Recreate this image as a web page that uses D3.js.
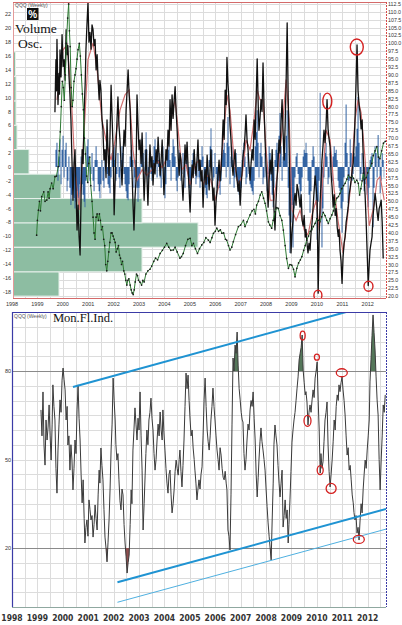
<!DOCTYPE html>
<html><head><meta charset="utf-8">
<script src="https://cdn.jsdelivr.net/npm/d3@7"></script>
<style>html,body{margin:0;padding:0;background:#fff;} svg{display:block}</style>
</head><body><svg id="c" width="402" height="625"></svg>
<script>
// ---------------- DATA ----------------
const years = d3.range(1998, 2013);
const oscTicks = d3.range(-18, 23, 2);
const priceTicks = d3.range(20, 112.6, 2.5);
const mfiTicks = [20, 50, 80];

// QQQ weekly close (right axis) [decimal year, price]
const qqqPrice = [[1998.97,39.3],[1999.00,44],[1999.04,47.2],[1999.08,50],[1999.12,47],[1999.17,51.5],[1999.25,53],[1999.30,50],[1999.37,50.4],[1999.42,53],[1999.46,51],[1999.50,54],[1999.56,55.8],[1999.62,54],[1999.69,57.8],[1999.75,58],[1999.82,61],[1999.86,66],[1999.90,72],[1999.94,80],[1999.98,88],[2000.02,86],[2000.06,82],[2000.10,90],[2000.14,100],[2000.19,108],[2000.23,112.5],[2000.26,104],[2000.29,99],[2000.33,86],[2000.37,80],[2000.40,82],[2000.44,88],[2000.48,90],[2000.52,92],[2000.56,95],[2000.60,98],[2000.65,100],[2000.69,96],[2000.73,90],[2000.77,84],[2000.81,79],[2000.85,70],[2000.89,65],[2000.94,58],[2000.98,56],[2001.02,62],[2001.06,64],[2001.10,55],[2001.15,50],[2001.19,45],[2001.23,40],[2001.27,38],[2001.31,45],[2001.35,46],[2001.40,44],[2001.44,46],[2001.48,44],[2001.52,41],[2001.56,42],[2001.61,38],[2001.65,36],[2001.69,30],[2001.73,28],[2001.77,31],[2001.81,34],[2001.85,37],[2001.90,40],[2001.94,40],[2001.98,39],[2002.02,38],[2002.06,37],[2002.10,34],[2002.15,35],[2002.19,36],[2002.23,33],[2002.27,32],[2002.31,30],[2002.35,31],[2002.40,28],[2002.44,27],[2002.48,25],[2002.52,23.5],[2002.56,25],[2002.60,25.5],[2002.65,23.5],[2002.69,22],[2002.73,21],[2002.77,20.5],[2002.81,22],[2002.85,24.5],[2002.90,27],[2002.94,26.5],[2002.98,25],[2003.04,24.4],[2003.10,23.5],[2003.15,25],[2003.20,24.5],[2003.27,27],[2003.35,28],[2003.43,28.5],[2003.50,29.5],[2003.58,31],[2003.65,32],[2003.73,31.5],[2003.83,33.5],[2003.92,34.5],[2004.00,35.5],[2004.09,36.7],[2004.17,35.5],[2004.25,34.5],[2004.35,34.6],[2004.42,35.5],[2004.50,34],[2004.61,32],[2004.67,32.5],[2004.74,33.5],[2004.83,36],[2004.92,38],[2005.01,38.3],[2005.08,36],[2005.14,36.7],[2005.22,35],[2005.30,33.5],[2005.38,35],[2005.47,36.2],[2005.55,37],[2005.63,38.5],[2005.73,37.7],[2005.80,37],[2005.87,38.5],[2005.93,39.9],[2006.00,40.5],[2006.06,41.5],[2006.13,40.5],[2006.20,41],[2006.26,39.9],[2006.33,40],[2006.40,38],[2006.45,37.7],[2006.52,36],[2006.58,34.6],[2006.65,35.5],[2006.71,37.2],[2006.80,39.5],[2006.91,42],[2007.00,42.5],[2007.11,44],[2007.17,42],[2007.25,43.5],[2007.37,45.7],[2007.45,47],[2007.52,47.5],[2007.58,46],[2007.63,48.8],[2007.70,50],[2007.77,52],[2007.83,53],[2007.90,51],[2007.96,49.4],[2008.02,47],[2008.09,43.5],[2008.15,42.5],[2008.22,41.5],[2008.28,44],[2008.35,46.7],[2008.42,48],[2008.48,47.8],[2008.55,45.5],[2008.62,44],[2008.68,40.9],[2008.75,36],[2008.81,31.9],[2008.88,28.8],[2008.94,30],[2009.01,29.8],[2009.08,28.5],[2009.14,26.1],[2009.21,28.8],[2009.28,30.5],[2009.35,31.5],[2009.41,32.5],[2009.48,34.5],[2009.54,36],[2009.60,37.7],[2009.67,39],[2009.74,40.5],[2009.80,41],[2009.86,42],[2009.93,43],[2010.00,44.5],[2010.06,44],[2010.12,43.5],[2010.19,45.1],[2010.25,46.5],[2010.32,45.5],[2010.39,44],[2010.45,43],[2010.52,44.5],[2010.59,45.7],[2010.65,47],[2010.72,49],[2010.78,51],[2010.85,51.5],[2010.91,52.5],[2010.98,54],[2011.05,55],[2011.11,55.7],[2011.18,57],[2011.24,58.3],[2011.31,57.5],[2011.38,58],[2011.44,57.3],[2011.50,56],[2011.57,56.7],[2011.63,55.7],[2011.68,52],[2011.73,54],[2011.78,56.5],[2011.83,58.9],[2011.88,57],[2011.94,57.5],[2012.00,59],[2012.08,60.5],[2012.16,62],[2012.22,64.5],[2012.29,66],[2012.36,67.3],[2012.42,64],[2012.48,63.5],[2012.55,66],[2012.62,68.4],[2012.69,69]];

// Oscillator (left axis) black line
const oscLine = [[1999.69,7.9],[1999.71,12.0],[1999.73,15.5],[1999.75,11.0],[1999.77,18.4],[1999.79,14.0],[1999.81,9.0],[1999.85,13.5],[1999.87,10.5],[1999.89,16.9],[1999.93,13.0],[1999.97,19.1],[2000.01,14.5],[2000.05,15.5],[2000.09,12.5],[2000.13,19.8],[2000.17,16.2],[2000.20,17.5],[2000.24,13.3],[2000.28,10.5],[2000.32,6.8],[2000.36,1.0],[2000.40,-4.8],[2000.44,0.5],[2000.48,2.5],[2000.52,-3.5],[2000.56,-9.1],[2000.60,-5.5],[2000.64,-10.0],[2000.68,-12.7],[2000.72,-4.0],[2000.76,2.5],[2000.80,0.5],[2000.84,8.2],[2000.88,12.0],[2000.91,16.9],[2000.95,20.5],[2000.99,23.7],[2001.03,18.0],[2001.07,19.4],[2001.11,17.0],[2001.15,20.5],[2001.19,19.8],[2001.23,17.5],[2001.27,18.4],[2001.31,14.0],[2001.35,16.2],[2001.39,12.5],[2001.43,9.7],[2001.46,12.5],[2001.50,11.1],[2001.54,7.0],[2001.58,5.3],[2001.62,1.0],[2001.66,2.5],[2001.70,-1.5],[2001.74,6.8],[2001.78,2.0],[2001.82,-1.2],[2001.86,5.0],[2001.90,11.8],[2001.94,7.0],[2001.98,2.5],[2002.02,-6.9],[2002.06,-2.0],[2002.09,2.5],[2002.13,6.5],[2002.17,10.1],[2002.21,6.0],[2002.25,3.9],[2002.29,0.5],[2002.33,-2.6],[2002.37,1.5],[2002.41,5.3],[2002.45,3.0],[2002.49,8.2],[2002.53,11.0],[2002.57,14.0],[2002.61,10.5],[2002.65,8.2],[2002.69,3.0],[2002.72,-0.4],[2002.76,-5.0],[2002.80,-9.1],[2002.84,-4.5],[2002.88,-1.9],[2002.92,10.4],[2002.96,6.0],[2003.00,2.5],[2003.04,3.9],[2003.08,0.5],[2003.12,4.9],[2003.16,0.0],[2003.20,-4.8],[2003.24,-1.0],[2003.28,2.5],[2003.31,-1.5],[2003.35,-5.5],[2003.39,-1.0],[2003.43,3.2],[2003.47,0.0],[2003.51,1.5],[2003.55,-2.6],[2003.59,0.5],[2003.63,-1.0],[2003.67,2.5],[2003.71,0.5],[2003.75,4.3],[2003.79,1.5],[2003.83,-1.2],[2003.87,1.0],[2003.91,3.9],[2003.94,0.5],[2003.98,-4.0],[2004.02,-1.0],[2004.06,2.5],[2004.10,1.0],[2004.14,5.3],[2004.18,3.0],[2004.22,9.7],[2004.26,5.3],[2004.30,10.4],[2004.34,7.0],[2004.38,9.5],[2004.42,11.6],[2004.46,8.0],[2004.50,5.3],[2004.54,1.5],[2004.58,-1.2],[2004.61,2.0],[2004.65,1.0],[2004.69,-2.0],[2004.73,-4.8],[2004.77,-1.0],[2004.81,3.2],[2004.85,0.5],[2004.89,3.6],[2004.93,0.0],[2004.97,-3.3],[2005.01,-6.5],[2005.05,-2.5],[2005.09,0.3],[2005.13,-1.5],[2005.17,2.5],[2005.20,0.5],[2005.24,-1.2],[2005.28,1.0],[2005.32,3.9],[2005.36,-0.5],[2005.40,1.0],[2005.44,-2.0],[2005.48,-0.5],[2005.52,-5.8],[2005.56,-2.0],[2005.60,-0.4],[2005.64,-2.5],[2005.68,1.7],[2005.72,-1.0],[2005.76,-3.3],[2005.80,0.0],[2005.83,2.5],[2005.87,-1.5],[2005.91,-4.8],[2005.95,-3.0],[2005.99,-8.4],[2006.03,-5.0],[2006.07,-3.3],[2006.11,-1.0],[2006.15,1.0],[2006.19,-2.0],[2006.23,-0.4],[2006.27,3.0],[2006.31,6.8],[2006.35,4.0],[2006.39,11.1],[2006.43,9.0],[2006.46,15.8],[2006.50,12.0],[2006.54,9.7],[2006.58,6.0],[2006.62,3.9],[2006.66,0.5],[2006.70,-1.2],[2006.74,1.0],[2006.78,2.5],[2006.82,-0.5],[2006.86,-1.9],[2006.90,-3.5],[2006.94,-2.0],[2006.98,-5.5],[2007.02,-2.5],[2007.06,-0.4],[2007.09,1.5],[2007.13,2.5],[2007.17,4.5],[2007.21,7.5],[2007.25,4.0],[2007.29,2.5],[2007.33,0.0],[2007.37,-1.9],[2007.41,0.5],[2007.45,2.5],[2007.49,1.0],[2007.53,6.8],[2007.57,4.0],[2007.61,10.0],[2007.65,15.6],[2007.69,9.0],[2007.72,5.3],[2007.76,7.0],[2007.80,9.7],[2007.84,8.0],[2007.88,15.0],[2007.92,8.5],[2007.96,3.9],[2008.00,0.0],[2008.04,-2.5],[2008.08,-5.8],[2008.12,-2.0],[2008.16,1.0],[2008.20,-1.0],[2008.24,2.5],[2008.28,-2.5],[2008.31,-6.0],[2008.35,-9.1],[2008.39,-5.0],[2008.43,-1.9],[2008.47,1.0],[2008.51,3.9],[2008.55,2.0],[2008.59,6.5],[2008.63,9.7],[2008.67,5.0],[2008.71,1.0],[2008.75,6.0],[2008.79,12.5],[2008.83,20.8],[2008.87,10.0],[2008.91,2.5],[2008.94,-5.0],[2008.98,-12.4],[2009.02,-9.5],[2009.06,-7.7],[2009.10,-5.0],[2009.14,-3.8],[2009.18,-5.5],[2009.22,-2.5],[2009.26,-3.3],[2009.30,-4.5],[2009.34,-5.8],[2009.38,-4.0],[2009.42,-7.7],[2009.46,-8.5],[2009.50,-7.0],[2009.54,-10.1],[2009.57,-9.0],[2009.61,-11.0],[2009.65,-12.4],[2009.69,-11.0],[2009.73,-12.0],[2009.77,-9.5],[2009.81,-8.0],[2009.85,-5.8],[2009.89,-3.5],[2009.93,-1.3],[2009.97,-3.0],[2010.01,-4.8],[2010.05,-18.2],[2010.09,-10.0],[2010.13,-4.8],[2010.16,-2.5],[2010.20,1.0],[2010.24,3.0],[2010.28,5.3],[2010.32,3.5],[2010.36,6.0],[2010.40,9.7],[2010.44,5.5],[2010.48,4.0],[2010.52,2.9],[2010.56,-1.0],[2010.60,-3.0],[2010.64,-5.8],[2010.68,-4.0],[2010.72,-7.0],[2010.76,-6.0],[2010.80,-8.7],[2010.84,-10.0],[2010.87,-9.0],[2010.91,-12.0],[2010.95,-13.5],[2010.99,-16.8],[2011.03,-13.0],[2011.07,-11.0],[2011.11,-10.1],[2011.15,-8.0],[2011.19,-7.0],[2011.23,-5.8],[2011.27,-4.0],[2011.31,-3.0],[2011.35,-1.9],[2011.39,-0.5],[2011.43,0.6],[2011.46,3.0],[2011.50,6.8],[2011.54,12.0],[2011.58,17.6],[2011.62,11.0],[2011.66,9.0],[2011.70,7.8],[2011.74,5.5],[2011.78,6.8],[2011.82,2.0],[2011.86,-1.5],[2011.90,-4.3],[2011.94,-8.0],[2011.98,-12.5],[2012.02,-17.1],[2012.06,-14.0],[2012.09,-12.0],[2012.13,-11.0],[2012.17,-10.1],[2012.21,-7.0],[2012.25,-5.5],[2012.29,-3.8],[2012.33,-5.0],[2012.37,-6.5],[2012.41,-7.7],[2012.45,-6.0],[2012.49,-5.5],[2012.53,-4.8],[2012.57,-8.0],[2012.61,-13.2]];

// smoothed oscillator (red)
const oscSmooth = [[1999.77,9.7],[2000.01,16.9],[2000.17,17.6],[2000.32,11.1],[2000.48,-0.4],[2000.64,-6.2],[2000.80,2.5],[2000.99,15.5],[2001.19,17.9],[2001.35,14.0],[2001.54,6.8],[2001.74,3.2],[2001.90,1.0],[2002.06,3.9],[2002.25,8.2],[2002.45,10.4],[2002.61,11.1],[2002.76,2.5],[2002.92,-1.9],[2003.12,-0.4],[2003.31,-1.2],[2003.51,-0.4],[2003.71,1.0],[2003.91,-0.1],[2004.06,1.0],[2004.26,6.8],[2004.42,9.7],[2004.54,5.3],[2004.69,-0.4],[2004.85,0.3],[2005.01,-2.6],[2005.20,0.3],[2005.36,1.0],[2005.52,-2.6],[2005.68,-1.2],[2005.83,-1.9],[2005.99,-4.8],[2006.15,-2.6],[2006.31,3.9],[2006.46,10.4],[2006.58,8.2],[2006.74,1.0],[2006.90,-2.6],[2007.06,-1.2],[2007.21,3.9],[2007.37,2.5],[2007.53,6.8],[2007.65,11.1],[2007.76,9.7],[2007.88,9.7],[2008.00,2.5],[2008.16,-4.8],[2008.31,-4.8],[2008.47,-0.4],[2008.63,5.3],[2008.79,12.6],[2008.91,6.8],[2009.02,-6.2],[2009.18,-7.7],[2009.34,-6.2],[2009.50,-9.1],[2009.65,-9.8],[2009.81,-6.9],[2009.97,-4.8],[2010.09,-9.1],[2010.20,-3.3],[2010.36,5.3],[2010.52,3.9],[2010.68,-3.3],[2010.83,-7.7],[2011.03,-12.4],[2011.19,-7.7],[2011.35,-1.9],[2011.50,6.8],[2011.62,9.7],[2011.74,7.8],[2011.90,1.0],[2012.06,-8.5],[2012.21,-6.2],[2012.37,-1.9],[2012.49,-1.4],[2012.65,-4.8]];

// Volume oscillator histogram (blue, left axis)
const volOsc = [[1999.69,0],[1999.73,2.5],[1999.77,3.5],[1999.81,-2.0],[1999.85,1.5],[1999.89,4.0],[1999.93,-2.5],[1999.97,2.5],[2000.01,4.5],[2000.05,-1.5],[2000.09,2.5],[2000.13,3.5],[2000.17,-3.5],[2000.20,-2.0],[2000.24,1.5],[2000.28,-3.0],[2000.32,-5.5],[2000.36,-4.0],[2000.40,-2.0],[2000.44,-4.5],[2000.48,-6.0],[2000.52,-5.0],[2000.56,-3.5],[2000.60,-4.5],[2000.64,-5.5],[2000.68,-2.5],[2000.72,1.5],[2000.76,-2.5],[2000.80,-4.0],[2000.84,-5.0],[2000.87,-5.8],[2000.91,-2.0],[2000.95,3.0],[2000.99,4.0],[2001.03,1.5],[2001.07,-2.0],[2001.11,-1.0],[2001.15,2.0],[2001.19,-2.0],[2001.23,-3.5],[2001.27,1.0],[2001.31,3.0],[2001.35,1.0],[2001.39,-2.5],[2001.43,-3.5],[2001.46,-4.5],[2001.50,-2.5],[2001.54,1.0],[2001.58,-2.0],[2001.62,-3.0],[2001.66,1.0],[2001.70,2.5],[2001.74,-1.0],[2001.78,-2.5],[2001.82,-3.0],[2001.86,-3.8],[2001.90,-1.5],[2001.94,2.0],[2001.98,2.5],[2002.02,3.2],[2002.06,1.0],[2002.09,-2.0],[2002.13,-1.0],[2002.17,2.0],[2002.21,-1.5],[2002.25,-3.0],[2002.29,1.0],[2002.33,3.0],[2002.37,2.0],[2002.41,-1.0],[2002.45,-2.5],[2002.49,-3.5],[2002.53,-4.5],[2002.57,-4.8],[2002.61,-2.5],[2002.65,1.5],[2002.69,2.5],[2002.72,3.2],[2002.76,1.0],[2002.80,-3.0],[2002.84,-1.5],[2002.88,1.0],[2002.92,-3.0],[2002.96,-5.0],[2003.00,-3.0],[2003.04,-1.0],[2003.08,2.5],[2003.12,4.0],[2003.16,2.0],[2003.20,-2.0],[2003.24,2.5],[2003.28,5.0],[2003.31,2.5],[2003.35,-3.0],[2003.39,-1.5],[2003.43,2.0],[2003.47,-1.0],[2003.51,-2.0],[2003.55,1.0],[2003.59,3.0],[2003.63,4.0],[2003.67,2.0],[2003.71,-1.5],[2003.75,1.0],[2003.79,2.0],[2003.83,-1.5],[2003.87,-3.0],[2003.91,1.0],[2003.94,3.0],[2003.98,-2.0],[2004.02,-4.5],[2004.06,-2.5],[2004.10,2.0],[2004.14,2.5],[2004.18,3.0],[2004.22,1.0],[2004.26,-2.0],[2004.30,2.0],[2004.34,4.0],[2004.38,3.0],[2004.42,1.5],[2004.46,-2.0],[2004.50,-3.5],[2004.54,-1.5],[2004.58,2.5],[2004.61,1.0],[2004.65,-2.0],[2004.69,-1.0],[2004.73,2.0],[2004.77,-1.5],[2004.81,-3.0],[2004.85,1.0],[2004.89,3.0],[2004.93,-1.0],[2004.97,-3.0],[2005.01,-4.5],[2005.05,-2.5],[2005.09,1.0],[2005.13,2.0],[2005.17,2.5],[2005.20,-1.0],[2005.24,-2.5],[2005.28,-1.5],[2005.32,2.0],[2005.36,-1.5],[2005.40,-3.0],[2005.44,1.0],[2005.48,3.0],[2005.52,1.5],[2005.56,-2.0],[2005.60,-3.0],[2005.64,-4.0],[2005.68,-4.5],[2005.72,-2.5],[2005.76,1.0],[2005.80,3.0],[2005.83,5.6],[2005.87,2.5],[2005.91,-2.0],[2005.95,-1.5],[2005.99,2.0],[2006.03,-1.0],[2006.07,-3.0],[2006.11,-2.0],[2006.15,-3.0],[2006.19,-4.0],[2006.23,-2.0],[2006.27,2.0],[2006.31,2.5],[2006.35,3.5],[2006.39,2.0],[2006.43,-1.5],[2006.46,3.5],[2006.50,7.2],[2006.54,3.0],[2006.58,-2.5],[2006.62,1.5],[2006.66,3.0],[2006.70,1.0],[2006.74,-3.0],[2006.78,-1.5],[2006.82,2.0],[2006.86,-2.0],[2006.90,-3.5],[2006.94,-4.0],[2006.98,-5.0],[2007.02,-3.0],[2007.06,1.0],[2007.09,2.5],[2007.13,3.5],[2007.17,1.5],[2007.21,-2.5],[2007.25,-1.5],[2007.29,2.0],[2007.33,-1.0],[2007.37,-2.5],[2007.41,-3.0],[2007.45,-3.5],[2007.49,-4.0],[2007.53,-2.0],[2007.57,3.0],[2007.61,5.0],[2007.65,8.2],[2007.69,3.5],[2007.72,-1.5],[2007.76,2.0],[2007.80,3.5],[2007.84,1.5],[2007.88,-2.5],[2007.92,-1.5],[2007.96,2.0],[2008.00,-1.5],[2008.04,-3.5],[2008.08,-1.0],[2008.12,3.0],[2008.16,2.0],[2008.20,-2.0],[2008.24,-4.0],[2008.28,-5.8],[2008.31,-3.0],[2008.35,1.0],[2008.39,2.5],[2008.43,3.5],[2008.47,2.0],[2008.51,4.5],[2008.55,7.8],[2008.59,3.0],[2008.63,-2.0],[2008.67,1.5],[2008.71,3.5],[2008.75,2.0],[2008.79,4.5],[2008.83,8.2],[2008.87,-3.0],[2008.90,-7.0],[2008.94,-12.4],[2008.98,-8.0],[2009.02,-5.5],[2009.06,-11.6],[2009.10,-6.0],[2009.14,-1.5],[2009.18,1.5],[2009.22,2.0],[2009.26,-1.0],[2009.30,-2.5],[2009.34,-5.8],[2009.38,-3.5],[2009.42,-1.5],[2009.46,1.5],[2009.50,2.5],[2009.54,2.0],[2009.57,3.5],[2009.61,2.0],[2009.65,-2.0],[2009.69,-4.0],[2009.73,-6.6],[2009.77,-3.5],[2009.81,1.0],[2009.85,3.0],[2009.89,1.5],[2009.93,-2.5],[2009.97,-5.5],[2010.01,-10.5],[2010.05,-5.0],[2010.09,-2.0],[2010.13,10.7],[2010.16,-3.0],[2010.20,-11.6],[2010.24,-6.0],[2010.28,-1.5],[2010.32,2.0],[2010.36,3.5],[2010.40,1.5],[2010.44,-2.5],[2010.48,-1.5],[2010.52,2.0],[2010.56,1.0],[2010.60,-2.0],[2010.64,1.5],[2010.68,3.0],[2010.72,2.0],[2010.76,2.5],[2010.80,1.0],[2010.83,-2.0],[2010.87,-3.0],[2010.91,-3.5],[2010.95,-6.0],[2010.99,-9.5],[2011.03,-5.0],[2011.07,-1.5],[2011.11,3.5],[2011.15,9.0],[2011.19,2.0],[2011.23,-5.2],[2011.27,-2.0],[2011.31,4.0],[2011.35,2.0],[2011.39,-2.0],[2011.43,-1.0],[2011.46,2.0],[2011.50,1.5],[2011.54,3.0],[2011.58,5.5],[2011.62,10.1],[2011.66,3.5],[2011.70,-2.0],[2011.74,-1.0],[2011.78,2.0],[2011.82,-2.0],[2011.86,-3.5],[2011.90,-2.5],[2011.94,-1.5],[2011.98,-4.0],[2012.02,-5.8],[2012.06,-3.0],[2012.09,1.0],[2012.13,1.5],[2012.17,2.0],[2012.21,-8.7],[2012.25,-3.0],[2012.29,3.0],[2012.33,2.0],[2012.37,-1.5],[2012.41,4.6],[2012.45,1.5],[2012.49,-3.8],[2012.53,-2.0],[2012.57,2.0],[2012.61,1.0],[2012.65,-1.5]];

// Volume at price (green horizontal bars): bin edges (price) and volume (arb. units)
const priceBinEdges = [20.0, 27.7, 35.5, 43.2, 50.9, 58.7, 66.4, 74.1, 81.8, 89.6, 97.3];
const volAtPrice = [46, 129, 185, 129, 48, 16, 4, 3, 3, 2.5];

// Money Flow Index (bottom panel)
const mfiLine = [[1999.14,66.8],[1999.18,58.0],[1999.22,72.9],[1999.26,54.9],[1999.30,48.1],[1999.34,63.4],[1999.38,56.6],[1999.42,61.0],[1999.46,68.5],[1999.50,58.0],[1999.54,49.8],[1999.58,62.0],[1999.61,75.3],[1999.65,68.0],[1999.69,63.4],[1999.73,47.0],[1999.77,38.6],[1999.81,53.2],[1999.85,62.0],[1999.89,70.2],[1999.93,66.0],[1999.97,76.9],[2000.01,81.0],[2000.05,77.0],[2000.09,73.6],[2000.13,63.4],[2000.17,68.0],[2000.20,54.9],[2000.24,58.0],[2000.28,46.4],[2000.32,55.0],[2000.36,49.8],[2000.40,39.7],[2000.44,47.0],[2000.48,56.6],[2000.52,52.0],[2000.56,66.8],[2000.60,75.3],[2000.64,64.0],[2000.68,56.6],[2000.72,45.0],[2000.76,35.3],[2000.80,43.1],[2000.84,30.0],[2000.87,21.7],[2000.91,27.0],[2000.95,29.5],[2000.99,24.0],[2001.03,36.3],[2001.07,33.0],[2001.11,29.5],[2001.15,31.0],[2001.19,23.7],[2001.23,28.0],[2001.27,34.6],[2001.31,30.0],[2001.35,26.1],[2001.39,38.0],[2001.43,46.4],[2001.46,42.0],[2001.50,53.9],[2001.54,48.0],[2001.58,43.1],[2001.62,33.0],[2001.66,23.7],[2001.70,20.0],[2001.74,15.3],[2001.78,22.0],[2001.82,29.5],[2001.86,40.0],[2001.90,53.2],[2001.94,62.0],[2001.98,77.6],[2002.02,70.0],[2002.06,63.4],[2002.09,55.0],[2002.13,49.8],[2002.17,52.0],[2002.21,43.1],[2002.25,36.0],[2002.29,32.9],[2002.33,40.0],[2002.37,38.0],[2002.41,28.0],[2002.45,21.7],[2002.49,17.0],[2002.53,11.5],[2002.57,15.0],[2002.61,17.6],[2002.65,28.0],[2002.69,39.7],[2002.72,35.0],[2002.76,53.2],[2002.80,60.0],[2002.84,67.5],[2002.88,62.0],[2002.92,56.6],[2002.96,64.0],[2003.00,60.0],[2003.04,72.9],[2003.08,58.0],[2003.12,46.4],[2003.16,26.1],[2003.20,35.0],[2003.24,44.7],[2003.27,52.0],[2003.31,60.0],[2003.35,55.0],[2003.39,63.4],[2003.43,66.0],[2003.47,70.8],[2003.51,64.0],[2003.55,60.0],[2003.59,52.0],[2003.63,46.4],[2003.67,50.0],[2003.71,56.6],[2003.75,62.0],[2003.79,58.0],[2003.83,66.1],[2003.87,60.0],[2003.91,56.6],[2003.94,66.8],[2003.98,59.0],[2004.02,53.2],[2004.06,47.0],[2004.10,42.0],[2004.14,38.6],[2004.18,45.0],[2004.22,46.4],[2004.26,38.0],[2004.30,31.9],[2004.34,35.0],[2004.38,39.7],[2004.42,46.0],[2004.46,49.8],[2004.50,47.0],[2004.54,44.7],[2004.58,50.0],[2004.61,53.2],[2004.65,46.0],[2004.69,40.7],[2004.73,48.0],[2004.77,56.6],[2004.81,68.0],[2004.85,79.3],[2004.89,74.0],[2004.93,78.6],[2004.97,70.0],[2005.01,63.4],[2005.05,58.0],[2005.09,60.0],[2005.13,53.9],[2005.17,50.0],[2005.20,46.4],[2005.24,42.0],[2005.28,36.3],[2005.32,40.0],[2005.36,43.1],[2005.40,40.0],[2005.44,45.0],[2005.48,47.5],[2005.52,58.0],[2005.56,70.2],[2005.60,77.6],[2005.64,68.0],[2005.68,60.0],[2005.72,56.0],[2005.76,53.2],[2005.80,58.0],[2005.83,63.4],[2005.87,68.0],[2005.91,74.2],[2005.95,68.0],[2005.99,63.4],[2006.03,58.0],[2006.07,53.2],[2006.11,50.0],[2006.15,46.4],[2006.19,54.0],[2006.23,51.5],[2006.27,47.0],[2006.31,44.0],[2006.35,43.1],[2006.39,46.0],[2006.43,42.0],[2006.46,39.7],[2006.50,26.1],[2006.54,24.0],[2006.58,19.3],[2006.62,38.0],[2006.66,62.0],[2006.70,84.4],[2006.74,80.0],[2006.78,88.8],[2006.82,86.0],[2006.86,93.2],[2006.90,82.0],[2006.94,74.0],[2006.98,70.2],[2007.02,66.0],[2007.06,63.4],[2007.09,62.7],[2007.13,52.0],[2007.17,46.4],[2007.21,50.0],[2007.25,56.6],[2007.29,62.0],[2007.33,60.0],[2007.37,66.8],[2007.41,70.0],[2007.45,68.0],[2007.49,72.9],[2007.53,64.0],[2007.57,56.6],[2007.61,45.0],[2007.65,37.3],[2007.69,44.0],[2007.72,49.8],[2007.76,56.0],[2007.80,60.7],[2007.84,56.0],[2007.88,53.2],[2007.92,50.0],[2007.96,46.4],[2008.00,40.0],[2008.04,34.0],[2008.08,28.5],[2008.12,24.0],[2008.16,20.0],[2008.20,15.9],[2008.24,29.5],[2008.28,42.0],[2008.31,55.0],[2008.35,61.7],[2008.39,58.0],[2008.43,54.9],[2008.47,48.0],[2008.51,42.0],[2008.55,37.3],[2008.59,42.0],[2008.63,46.4],[2008.67,27.1],[2008.71,31.0],[2008.75,36.3],[2008.79,30.0],[2008.83,32.9],[2008.87,21.7],[2008.90,28.0],[2008.94,36.3],[2008.98,46.0],[2009.02,55.9],[2009.06,60.0],[2009.10,63.4],[2009.14,66.0],[2009.18,70.0],[2009.22,74.2],[2009.26,78.0],[2009.30,83.7],[2009.34,86.0],[2009.38,88.0],[2009.42,92.2],[2009.46,80.3],[2009.50,76.0],[2009.54,71.9],[2009.57,73.0],[2009.61,69.5],[2009.65,61.7],[2009.69,66.0],[2009.73,68.5],[2009.77,66.0],[2009.81,70.2],[2009.85,73.6],[2009.89,71.0],[2009.93,77.6],[2009.97,80.0],[2010.01,83.1],[2010.05,70.2],[2010.09,60.0],[2010.13,45.4],[2010.16,52.0],[2010.20,47.0],[2010.24,49.2],[2010.28,56.0],[2010.32,63.4],[2010.36,66.0],[2010.40,69.5],[2010.44,54.9],[2010.48,46.0],[2010.52,40.7],[2010.56,45.0],[2010.60,49.8],[2010.64,56.0],[2010.68,63.4],[2010.72,60.0],[2010.76,68.0],[2010.80,71.9],[2010.84,70.0],[2010.87,75.3],[2010.91,73.0],[2010.95,76.0],[2010.99,78.0],[2011.03,73.6],[2011.07,70.0],[2011.11,65.1],[2011.15,58.0],[2011.19,51.5],[2011.23,54.0],[2011.27,46.4],[2011.31,48.0],[2011.35,43.1],[2011.39,38.0],[2011.43,35.3],[2011.46,32.0],[2011.50,29.5],[2011.54,31.0],[2011.58,25.1],[2011.62,27.0],[2011.66,22.7],[2011.70,29.5],[2011.74,35.0],[2011.78,31.9],[2011.82,39.7],[2011.86,45.0],[2011.90,49.8],[2011.94,47.0],[2011.98,53.2],[2012.02,58.0],[2012.06,63.4],[2012.09,76.3],[2012.13,84.0],[2012.17,92.0],[2012.21,99.0],[2012.25,93.0],[2012.29,87.1],[2012.33,78.0],[2012.37,70.2],[2012.41,65.1],[2012.45,50.0],[2012.49,39.7],[2012.53,49.8],[2012.57,58.0],[2012.61,68.5],[2012.65,66.0],[2012.69,71.9]];

// annotations (data positions)
const oscMarks = [[2011.57,17.3],[2010.41,9.5],[2010.04,-18.5],[2012.03,-17.2]];
const mfiMarks = [[2009.44,92.0],[2010.00,84.7],[2010.98,79.4],[2009.63,63.1],[2010.13,46.4],[2010.56,40.2],[2011.65,22.9]];
const trendUpper = [[2000.40,74.6],[2011.15,100]];
const trendLowerMain = [[2002.15,8.4],[2012.72,33.2]];
const trendLowerThin = [[2002.15,1.6],[2012.72,26.4]];

// ---------------- STYLE / LAYOUT ----------------
const oscMarkRadii = [[6.5,8],[4.5,8],[4,5],[4.5,5]];
const mfiMarkRadii = [[2.5,4.5],[2.5,3],[5.5,4],[3.5,5.5],[3,4.5],[5,5],[5.5,4]];
const L = 12, R = 386;
const topP = {t:2, b:298, l:13};
const botP = {t:312, b:607, l:12};

const svg = d3.select("#c");
const x = d3.scaleLinear().domain([1998, 2012.72]).range([L, R]);
const yOsc = d3.scaleLinear().domain([-18.9, 23.8]).range([topP.b, topP.t]);
const yPrice = d3.scaleLinear().domain([19.4, 113.1]).range([topP.b, topP.t]);
const yMfi = d3.scaleLinear().domain([0, 100]).range([botP.b, botP.t]);
const xVol = d3.scaleLinear().domain([0, 372]).range([topP.l, topP.l + 372]);
const halfYears = d3.range(1998, 2012.8, 0.5);
const sans = "'Liberation Sans', Arial, sans-serif";
const serif = "'Liberation Serif', 'Times New Roman', serif";

const defs = svg.append("defs");
defs.append("clipPath").attr("id","clipTop").append("rect")
  .attr("x", topP.l).attr("y", topP.t).attr("width", R - topP.l).attr("height", topP.b - topP.t);
defs.append("clipPath").attr("id","clipBot").append("rect")
  .attr("x", botP.l).attr("y", botP.t).attr("width", R - botP.l).attr("height", botP.b - botP.t);
defs.append("clipPath").attr("id","clipHi").append("rect")
  .attr("x", botP.l).attr("y", botP.t).attr("width", R - botP.l).attr("height", yMfi(80) - botP.t);
defs.append("clipPath").attr("id","clipLo").append("rect")
  .attr("x", botP.l).attr("y", yMfi(20)).attr("width", R - botP.l).attr("height", botP.b - yMfi(20));

// ============ TOP PANEL ============
const gT = svg.append("g");
gT.append("g").selectAll("line").data(priceTicks).join("line")
  .attr("x1", topP.l).attr("x2", R).attr("y1", d => Math.round(yPrice(d))+0.5).attr("y2", d => Math.round(yPrice(d))+0.5)
  .attr("stroke", "#dcdcdc").attr("stroke-width", 1);
gT.append("g").selectAll("line").data(halfYears.filter(d => x(d) > topP.l + 1)).join("line")
  .attr("x1", d => Math.round(x(d))+0.5).attr("x2", d => Math.round(x(d))+0.5).attr("y1", topP.t).attr("y2", topP.b)
  .attr("stroke", "#dcdcdc").attr("stroke-width", 1);

const cT = gT.append("g").attr("clip-path","url(#clipTop)");
const binW = priceBinEdges[1] - priceBinEdges[0];
const binData = volAtPrice.map((v,i) => ({v, lo: priceBinEdges[i], hi: priceBinEdges[i] + binW}));
cT.append("g").selectAll("rect").data(binData).join("rect")
  .attr("x", xVol(0)).attr("width", d => xVol(d.v) - xVol(0))
  .attr("y", d => yPrice(d.hi)).attr("height", d => yPrice(d.lo) - yPrice(d.hi))
  .attr("fill", "#8dbda2").attr("stroke", "#e6f0ea").attr("stroke-width", 1);

cT.append("path").datum(volOsc)
  .attr("d", d3.area().curve(d3.curveStep).x(d => x(d[0])).y0(yOsc(0)).y1(d => yOsc(d[1])))
  .attr("fill", "#3464a3").attr("stroke", "none");

cT.append("path").datum(oscSmooth)
  .attr("d", d3.line().x(d => x(d[0])).y(d => yOsc(d[1])))
  .attr("fill", "none").attr("stroke", "#cf6e6e").attr("stroke-width", 1.2);
cT.append("path").datum(oscLine)
  .attr("d", d3.line().x(d => x(d[0])).y(d => yOsc(d[1])))
  .attr("fill", "none").attr("stroke", "#111").attr("stroke-width", 1.3).attr("stroke-linejoin","round");

cT.append("path").datum(qqqPrice)
  .attr("d", d3.line().x(d => x(d[0])).y(d => yPrice(d[1])))
  .attr("fill", "none").attr("stroke", "#2e7a34").attr("stroke-width", 1);
cT.append("g").selectAll("circle").data(qqqPrice).join("circle")
  .attr("cx", d => x(d[0])).attr("cy", d => yPrice(d[1])).attr("r", 0.85).attr("fill", "#1a1a1a");

cT.append("g").selectAll("ellipse").data(oscMarks).join("ellipse")
  .attr("cx", d => x(d[0])).attr("cy", d => yOsc(d[1]))
  .attr("rx", (d,i) => oscMarkRadii[i][0]).attr("ry", (d,i) => oscMarkRadii[i][1])
  .attr("fill", "none").attr("stroke", "#d42020").attr("stroke-width", 1.4);

gT.append("line").attr("x1", topP.l+0.5).attr("x2", topP.l+0.5).attr("y1", topP.t).attr("y2", topP.b).attr("stroke","#e39a9a");
gT.append("line").attr("x1", topP.l).attr("x2", R).attr("y1", topP.t+0.5).attr("y2", topP.t+0.5).attr("stroke","#d46a6a");
gT.append("line").attr("x1", topP.l).attr("x2", R).attr("y1", topP.b+0.5).attr("y2", topP.b+0.5).attr("stroke","#d46a6a");
gT.append("line").attr("x1", R+0.5).attr("x2", R+0.5).attr("y1", topP.t).attr("y2", topP.b).attr("stroke","#d44a4a").attr("stroke-dasharray","2,1");

gT.append("g").selectAll("text").data(oscTicks).join("text")
  .attr("x", 11).attr("y", d => yOsc(d) + 2).attr("text-anchor","end")
  .attr("font-family", sans).attr("font-size", 5.5).attr("fill", "#333").text(d => d);
gT.append("g").selectAll("text").data(priceTicks).join("text")
  .attr("x", 388).attr("y", d => yPrice(d) + 2).attr("text-anchor","start")
  .attr("font-family", sans).attr("font-size", 5.3).attr("fill", "#333").text(d => d.toFixed(1));
gT.append("g").selectAll("text").data(years).join("text")
  .attr("x", d => x(d)).attr("y", 306).attr("text-anchor","middle")
  .attr("font-family", sans).attr("font-size", 5.5).attr("fill", "#333").text(d => d);

gT.append("text").attr("x", 15).attr("y", 7).attr("font-family", sans).attr("font-size", 5).attr("fill","#555").text("QQQ (Weekly)");
gT.append("rect").attr("x", 27).attr("y", 8).attr("width", 11.5).attr("height", 12).attr("fill", "#111");
gT.append("text").attr("x", 32.7).attr("y", 17.8).attr("text-anchor","middle").attr("font-family", sans)
  .attr("font-size", 10).attr("font-weight","bold").attr("fill","#fff").text("%");
gT.append("text").attr("x", 15).attr("y", 33).attr("font-family", serif).attr("font-size", 13.5).attr("fill","#111").text("Volume");
gT.append("text").attr("x", 18).attr("y", 48).attr("font-family", serif).attr("font-size", 13.5).attr("fill","#111").text("Osc.");

// ============ BOTTOM PANEL ============
const gB = svg.append("g");
const mfiGrid = d3.range(5, 100, 5).filter(d => d !== 20 && d !== 80);
gB.append("g").selectAll("line").data(mfiGrid).join("line")
  .attr("x1", botP.l).attr("x2", R).attr("y1", d => Math.round(yMfi(d))+0.5).attr("y2", d => Math.round(yMfi(d))+0.5)
  .attr("stroke", "#dcdcdc");
gB.append("g").selectAll("line").data(halfYears.filter(d => x(d) > botP.l + 1)).join("line")
  .attr("x1", d => Math.round(x(d))+0.5).attr("x2", d => Math.round(x(d))+0.5).attr("y1", botP.t).attr("y2", botP.b)
  .attr("stroke", "#dcdcdc");
gB.append("g").selectAll("line").data([20, 80]).join("line")
  .attr("x1", botP.l).attr("x2", R).attr("y1", d => Math.round(yMfi(d))+0.5).attr("y2", d => Math.round(yMfi(d))+0.5)
  .attr("stroke", "#8a8a8a");

const cB = gB.append("g").attr("clip-path","url(#clipBot)");
cB.append("path").datum(mfiLine).attr("clip-path","url(#clipHi)")
  .attr("d", d3.area().x(d => x(d[0])).y0(yMfi(80)).y1(d => yMfi(d[1])))
  .attr("fill", "#55775a");
cB.append("path").datum(mfiLine).attr("clip-path","url(#clipLo)")
  .attr("d", d3.area().x(d => x(d[0])).y0(yMfi(20)).y1(d => yMfi(d[1])))
  .attr("fill", "#8e4f4f");
cB.append("path").datum(mfiLine)
  .attr("d", d3.line().x(d => x(d[0])).y(d => yMfi(d[1])))
  .attr("fill", "none").attr("stroke", "#3a3a3a").attr("stroke-width", 1);

const tl = d3.line().x(d => x(d[0])).y(d => yMfi(d[1]));
cB.append("path").datum(trendUpper).attr("d", tl).attr("stroke", "#1f93d2").attr("stroke-width", 2).attr("fill","none");
cB.append("path").datum(trendLowerMain).attr("d", tl).attr("stroke", "#1f93d2").attr("stroke-width", 2).attr("fill","none");
cB.append("path").datum(trendLowerThin).attr("d", tl).attr("stroke", "#4fb0e0").attr("stroke-width", 1).attr("fill","none");

cB.append("g").selectAll("ellipse").data(mfiMarks).join("ellipse")
  .attr("cx", d => x(d[0])).attr("cy", d => yMfi(d[1]))
  .attr("rx", (d,i) => mfiMarkRadii[i][0]).attr("ry", (d,i) => mfiMarkRadii[i][1])
  .attr("fill", "none").attr("stroke", "#d42020").attr("stroke-width", 1.3);

gB.append("line").attr("x1", botP.l+0.5).attr("x2", botP.l+0.5).attr("y1", botP.t).attr("y2", botP.b).attr("stroke","#3b3ba6").attr("stroke-width",1.2);
gB.append("line").attr("x1", botP.l).attr("x2", R).attr("y1", botP.t+0.5).attr("y2", botP.t+0.5).attr("stroke","#3b3ba6").attr("stroke-width",1.2);
gB.append("line").attr("x1", R+0.5).attr("x2", R+0.5).attr("y1", botP.t).attr("y2", botP.b).attr("stroke","#3b3ba6").attr("stroke-dasharray","2,1");
gB.append("line").attr("x1", botP.l).attr("x2", R).attr("y1", botP.b+0.5).attr("y2", botP.b+0.5).attr("stroke","#8fa8a0");

gB.append("g").selectAll("text").data(mfiTicks).join("text")
  .attr("x", 11).attr("y", d => yMfi(d) + 2).attr("text-anchor","end")
  .attr("font-family", sans).attr("font-size", 5.5).attr("fill", "#333").text(d => d);
gB.append("g").selectAll("text").data(years).join("text")
  .attr("x", d => x(d)).attr("y", 621).attr("text-anchor","middle")
  .attr("font-family", "'Liberation Sans Narrow', 'DejaVu Sans Condensed', sans-serif").attr("font-size", 8.5)
  .attr("font-weight", "bold").attr("fill", "#333").text(d => d);

gB.append("text").attr("x", 14).attr("y", 318).attr("font-family", sans).attr("font-size", 5).attr("fill","#555").text("QQQ (Weekly)");
gB.append("text").attr("x", 53).attr("y", 322).attr("font-family", serif).attr("font-size", 12.5).attr("fill","#111").text("Mon.Fl.Ind.");
</script>
</body></html>
